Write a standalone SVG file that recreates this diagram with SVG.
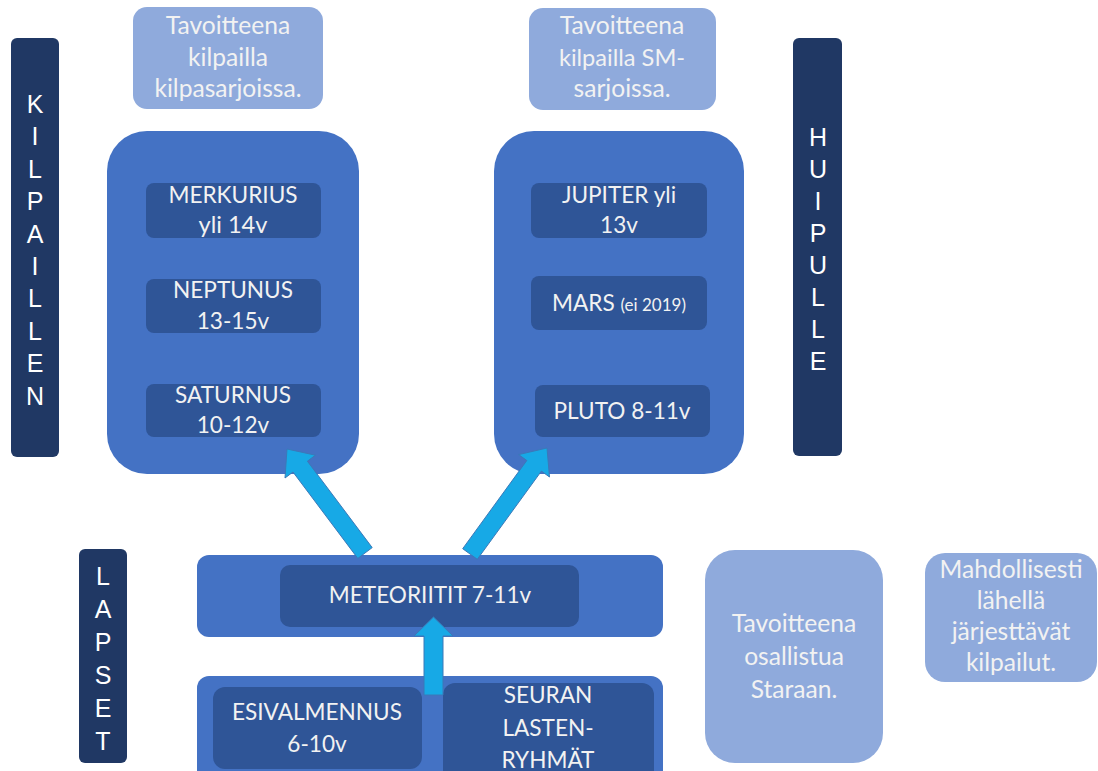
<svg xmlns="http://www.w3.org/2000/svg" width="1098" height="771" viewBox="0 0 1098 771">
<style>
.bar{fill:#203864}
.light{fill:#8faadc}
.big{fill:#4472c4}
.inner{fill:#2f5597}
.bt{font-family:"Liberation Sans",Arial,sans-serif;font-size:25px;fill:#ffffff;text-anchor:middle}
.t{font-family:Lato,"Open Sans",sans-serif;font-size:22.6px;fill:#f2f2f2;text-anchor:middle}
.l{font-size:24.6px}
.m{font-size:23.6px}
.s{font-size:17px}
.arrow{fill:#17a9e6;stroke:#3b79b8;stroke-width:1}
</style>
<rect width="1098" height="771" fill="#ffffff"/>

<g id="kilpaillen">
<rect class="bar" x="11" y="38" width="48" height="419" rx="6"/>
<text class="bt"><tspan x="35" y="113">K</tspan><tspan x="35" y="145.4">I</tspan><tspan x="35" y="177.8">L</tspan><tspan x="35" y="210.2">P</tspan><tspan x="35" y="242.6">A</tspan><tspan x="35" y="275">I</tspan><tspan x="35" y="307.4">L</tspan><tspan x="35" y="339.8">L</tspan><tspan x="35" y="372.2">E</tspan><tspan x="35" y="404.6">N</tspan></text>
</g>

<g id="huipulle">
<rect class="bar" x="793" y="38" width="49" height="418" rx="6"/>
<text class="bt"><tspan x="818" y="146">H</tspan><tspan x="818" y="178">U</tspan><tspan x="818" y="210">I</tspan><tspan x="818" y="242">P</tspan><tspan x="818" y="274">U</tspan><tspan x="818" y="306">L</tspan><tspan x="818" y="338">L</tspan><tspan x="818" y="370">E</tspan></text>
</g>

<g id="lapset">
<rect class="bar" x="79" y="549" width="48" height="214" rx="6"/>
<text class="bt"><tspan x="103" y="585">L</tspan><tspan x="103" y="618">A</tspan><tspan x="103" y="651">P</tspan><tspan x="103" y="684">S</tspan><tspan x="103" y="717">E</tspan><tspan x="103" y="750">T</tspan></text>
</g>

<g id="goal-left">
<rect class="light" x="133" y="7" width="190" height="102" rx="14"/>
<text class="t l"><tspan x="228" y="34">Tavoitteena</tspan><tspan x="228" y="66">kilpailla</tspan><tspan x="228" y="97">kilpasarjoissa.</tspan></text>
</g>

<g id="goal-right">
<rect class="light" x="529" y="8" width="187" height="102" rx="14"/>
<text class="t l"><tspan x="622" y="34">Tavoitteena</tspan><tspan class="m" x="622" y="66">kilpailla SM-</tspan><tspan x="622" y="97">sarjoissa.</tspan></text>
</g>

<g id="left-group">
<rect class="big" x="107" y="131" width="252" height="343" rx="40"/>
</g>
<g id="merkurius">
<rect class="inner" x="146" y="183" width="175" height="55" rx="8"/>
<text class="t"><tspan x="233" y="203">MERKURIUS</tspan><tspan class="m" x="233" y="233">yli 14v</tspan></text>
</g>
<g id="neptunus">
<rect class="inner" x="146" y="279" width="175" height="54" rx="8"/>
<text class="t"><tspan x="233" y="298">NEPTUNUS</tspan><tspan x="233" y="329">13-15v</tspan></text>
</g>
<g id="saturnus">
<rect class="inner" x="146" y="384" width="175" height="53" rx="8"/>
<text class="t"><tspan x="233" y="403">SATURNUS</tspan><tspan x="233" y="433">10-12v</tspan></text>
</g>

<g id="right-group">
<rect class="big" x="494" y="131" width="250" height="343" rx="40"/>
</g>
<g id="jupiter">
<rect class="inner" x="531" y="183" width="176" height="55" rx="8"/>
<text class="t"><tspan x="619" y="203">JUPITER yli</tspan><tspan x="619" y="233">13v</tspan></text>
</g>
<g id="mars">
<rect class="inner" x="531" y="276" width="176" height="54" rx="8"/>
<text class="t" x="619" y="311">MARS <tspan class="s">(ei 2019)</tspan></text>
</g>
<g id="pluto">
<rect class="inner" x="535" y="385" width="175" height="52" rx="8"/>
<text class="t" x="622" y="419">PLUTO 8-11v</text>
</g>

<g id="meteoriitit-group">
<rect class="big" x="197" y="555" width="466" height="82" rx="12"/>
</g>
<g id="meteoriitit">
<rect class="inner" x="280" y="565" width="299" height="62" rx="10"/>
<text class="t" x="430" y="603">METEORIITIT 7-11v</text>
</g>

<g id="bottom-group">
<rect class="big" x="197" y="676" width="466" height="110" rx="12"/>
</g>
<g id="esivalmennus">
<rect class="inner" x="213" y="687" width="209" height="82" rx="12"/>
<text class="t"><tspan x="317" y="720">ESIVALMENNUS</tspan><tspan x="317" y="752">6-10v</tspan></text>
</g>
<g id="seuran">
<rect class="inner" x="443" y="683" width="211" height="100" rx="12"/>
<text class="t"><tspan x="548" y="703">SEURAN</tspan><tspan x="548" y="736">LASTEN-</tspan><tspan x="548" y="768">RYHMÄT</tspan></text>
</g>

<g id="staraan">
<rect class="light" x="705" y="550" width="178" height="213" rx="30"/>
<text class="t l"><tspan x="794" y="632">Tavoitteena</tspan><tspan x="794" y="665">osallistua</tspan><tspan x="794" y="698">Staraan.</tspan></text>
</g>

<g id="lahella">
<rect class="light" x="925" y="553" width="172" height="129" rx="20"/>
<text class="t l"><tspan x="1011" y="578">Mahdollisesti</tspan><tspan x="1011" y="609">lähellä</tspan><tspan x="1011" y="640">järjesttävät</tspan><tspan x="1011" y="671">kilpailut.</tspan></text>
</g>

<g id="connectors">
<polygon class="arrow" points="357.8,558.4 293.0,472.0 285.0,478.0 287,449 315.4,455.2 307.4,461.2 372.2,547.6"/>
<polygon class="arrow" points="462.7,548.7 526.8,460.5 518.7,454.6 547,448 549.5,477.0 541.4,471.1 477.3,559.3"/>
<polygon class="arrow" points="424,695 424,636 414,636 433.5,617 453,636 443,636 443,695"/>
</g>
</svg>
